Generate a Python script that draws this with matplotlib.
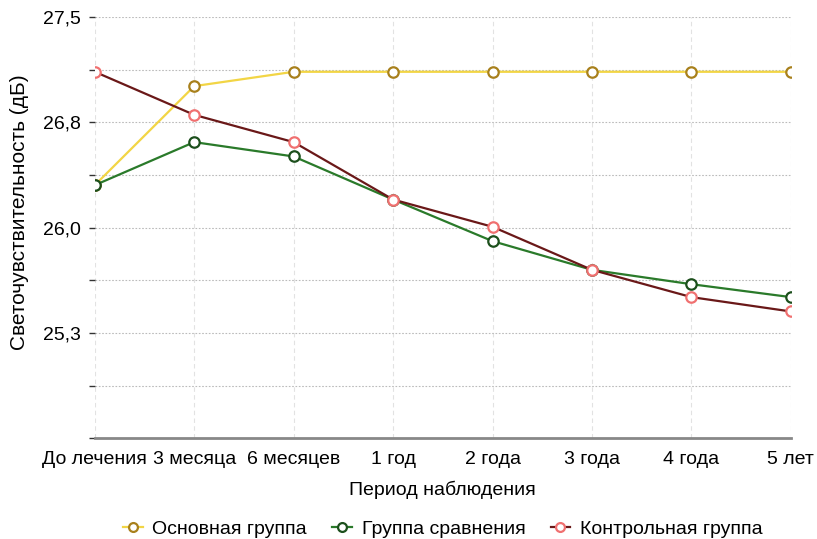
import numpy as np
import matplotlib
matplotlib.use("Agg")
import matplotlib.pyplot as plt

plt.rcParams['font.family'] = ['Liberation Sans', 'DejaVu Sans']

periods = ["До лечения", "3 месяца", "6 месяцев", "1 год", "2 года", "3 года", "4 года", "5 лет"]
main_group = [26.33, 27.02, 27.12, 27.12, 27.12, 27.12, 27.12, 27.12]
compare_group = [26.33, 26.63, 26.53, 26.23, 25.94, 25.74, 25.64, 25.55]
control_group = [27.12, 26.82, 26.63, 26.23, 26.04, 25.74, 25.55, 25.45]

y_min, y_max = 24.567, 27.5
major = np.linspace(y_min, y_max, 5)[1:]
minor = np.linspace(y_min, y_max, 9)

fig, ax = plt.subplots(figsize=(8.17, 5.39), dpi=100)
fig.subplots_adjust(left=0.116, right=0.968, top=0.968, bottom=0.187)

x = np.arange(len(periods))
series = [
    ("Основная группа", main_group, "#f2d545", "#a8801c"),
    ("Группа сравнения", compare_group, "#2a7a2a", "#1c4f1c"),
    ("Контрольная группа", control_group, "#6a1818", "#f07070"),
]
for name, vals, lc, mc in series:
    ax.plot(x, vals, color=lc, lw=1.6, marker='o', ms=7.5, mfc='white',
            mec=mc, mew=1.6, label=name, zorder=3)

ax.set_xlim(0, len(periods) - 1)
ax.set_ylim(y_min, y_max)
ax.set_yticks(minor, minor=True)
ax.set_yticks(major)
ax.set_yticklabels([f"{v:.1f}".replace(".", ",") for v in major], fontsize=14)
ax.set_xticks(x)
ax.set_xticklabels(periods, fontsize=14)
ax.tick_params(axis='y', which='both', length=4, width=1, color='#333333', pad=6)
ax.tick_params(axis='x', length=0, pad=9)

ax.grid(axis='y', which='both', color='#bbbbbb', ls=(0, (1.5, 1.5)), lw=0.8)
ax.grid(axis='x', color='#e2e2e2', ls=(0, (4, 3)), lw=0.8)
for s in ['left', 'right', 'top']:
    ax.spines[s].set_visible(False)
ax.spines['bottom'].set_color('#888888')
ax.spines['bottom'].set_linewidth(2)

ax.set_xlabel("Период наблюдения", fontsize=14, labelpad=9)
ax.set_ylabel("Светочувствительность (дБ)", fontsize=15)
ax.yaxis.set_label_coords(-0.094, 0.537)

ax.legend(loc='center', bbox_to_anchor=(0.5, -0.215), ncol=3, frameon=False,
          fontsize=14, handlelength=1.0, handletextpad=0.5, columnspacing=1.3,
          markerscale=0.85)

fig.savefig("out.png", dpi=100)
